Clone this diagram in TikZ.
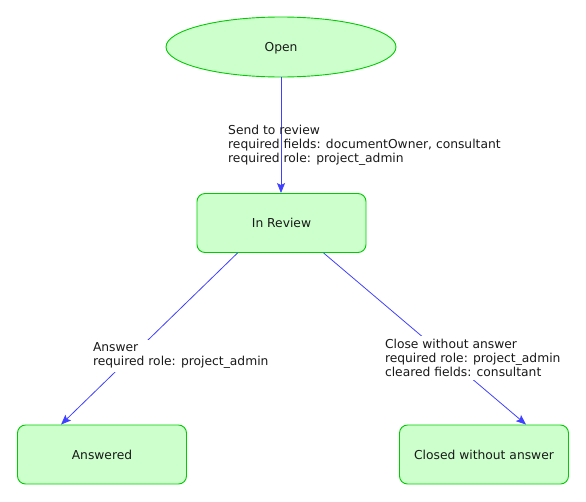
\documentclass[tikz,border=0pt]{standalone}
\usepackage{fontspec}
\setmainfont{DejaVu Sans}
\usetikzlibrary{arrows.meta,calc,shapes.geometric}
\definecolor{stfill}{HTML}{CCFFCC}
\definecolor{stdraw}{HTML}{00CC00}
\definecolor{edgeblue}{HTML}{4040FF}
\begin{document}
\begin{tikzpicture}[x=1pt,y=-1pt,
  every node/.style={font=\fontsize{12.3}{14}\selectfont, text=black!90},
  statebox/.style={draw=stdraw, fill=stfill, line width=0.9pt, rounded corners=8pt,
    minimum width=169pt, minimum height=59pt, inner sep=0pt, text height=9pt, text depth=0pt},
  stateell/.style={draw=stdraw, fill=stfill, line width=0.9pt, ellipse,
    minimum width=230pt, minimum height=60pt, inner sep=0pt, text height=9pt, text depth=0pt},
  edge/.style={draw=edgeblue, line width=0.8pt, -{Stealth[length=10pt,width=8pt,inset=2pt]}},
  elabel/.style={align=left, anchor=north west, inner sep=0pt},
  flabel/.style={align=left, anchor=north west, inner sep=0pt, outer sep=0pt, fill=white}
]
\useasboundingbox (0,0) rectangle (586,501);
\node[stateell] (open) at (281,47) {Open};
\node[statebox] (review) at (281.5,223) {In Review};
\node[statebox] (answered) at (102,454.5) {Answered};
\node[statebox] (closed) at (484,454.5) {Closed without answer};

\draw[edge] (open.south) -- (open.south |- review.north);
\draw[edge] ([xshift=41pt]review.south west) -- ([xshift=44pt]answered.north west);
\draw[edge] ([xshift=127pt]review.south west) -- ([xshift=127pt]closed.north west);

\node[elabel] (l1) at (228,125) {Send to review\\required fields: documentOwner, consultant\\required role: project\_admin};
\node[flabel, inner xsep=0pt, inner ysep=3pt] (l2) at (93,340) {Answer\\required role: project\_admin};
\node[flabel, inner xsep=0pt, inner ysep=3pt] (l3) at (385,336) {Close without answer\\required role: project\_admin\\cleared fields: consultant};
\end{tikzpicture}
\end{document}
